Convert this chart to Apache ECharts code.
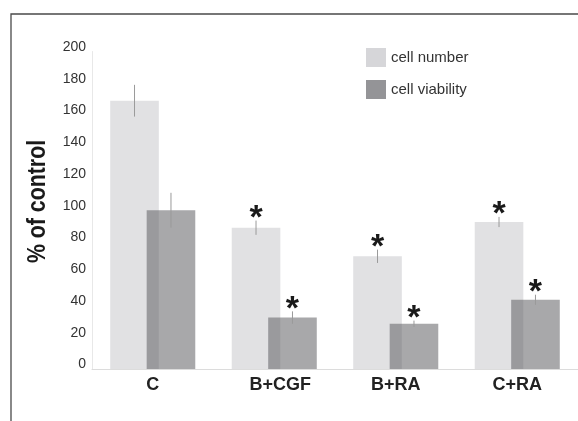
<!DOCTYPE html>
<html>
<head>
<meta charset="utf-8">
<script src="https://cdn.jsdelivr.net/npm/echarts@6/dist/echarts.min.js"></script>
<style>html,body{margin:0;padding:0;background:#fff;}#c{width:578px;height:421px;}</style>
</head>
<body>
<div id="c"></div>
<script>
const categories = ['C', 'B+CGF', 'B+RA', 'C+RA'];
const cellNumber = [169, 89, 71, 92.6];
const cellNumberErr = [10, 4.5, 4.2, 3.2];
const cellViability = [100, 32.4, 28.5, 43.6];
const cellViabilityErr = [11, 3.9, 2, 3.2];
const numberSig = [0, 1, 1, 1];
const viabilitySig = [0, 1, 1, 1];
const yMin = 0, yMax = 200, yStep = 20;

const FONT = '"Liberation Sans", Arial, sans-serif';
const BAR_W = 0.4, OVERLAP = 0.25;

function makeErr(vals, errs, sig) {
  return vals.map((v, i) => [i, v, errs[i], sig[i]]);
}
function renderer(side) {
  return function (params, api) {
    const i = api.value(0), v = api.value(1), e = api.value(2), s = api.value(3);
    const band = api.size([1, 0])[0];
    const off = side * band * BAR_W * (1 - OVERLAP) / 2;
    const x = api.coord([i, v])[0] + off;
    const yTop = api.coord([i, v + e])[1];
    const yBot = api.coord([i, v - e])[1];
    const children = [{
      type: 'line',
      shape: { x1: x, y1: yTop, x2: x, y2: yBot },
      style: { stroke: '#9a9a9a', lineWidth: 1 }
    }];
    if (s) {
      children.push({
        type: 'text',
        x: x, y: yTop - 9 + 7,
        style: { text: '*', fill: '#1a1a1a', font: 'bold 34px ' + FONT, align: 'center', verticalAlign: 'middle' }
      });
    }
    return { type: 'group', children };
  };
}

const chart = echarts.init(document.getElementById('c'), null, { renderer: 'canvas' });
chart.setOption({
  animation: false,
  backgroundColor: '#fff',
  grid: { left: 92, top: 51.5, width: 487, height: 317.5 },
  legend: {
    orient: 'vertical', left: 366, top: 48, padding: 0, icon: 'rect',
    itemWidth: 20, itemHeight: 19, itemGap: 13,
    textStyle: { fontFamily: FONT, fontSize: 15, color: '#333', padding: [8, 0, 0, 0] },
    data: [
      { name: 'cell number', itemStyle: { color: '#d6d6d9', opacity: 1 } },
      { name: 'cell viability', itemStyle: { color: '#949497', opacity: 1 } }
    ]
  },
  xAxis: {
    type: 'category',
    data: categories.map(c => c === 'B+CGF' ? { value: c, textStyle: { padding: [0, 0, 0, 12] } } : c),
    axisLine: { show: true, lineStyle: { color: '#dcdcdc', width: 1 } },
    axisTick: { show: false },
    axisLabel: { fontFamily: FONT, fontSize: 18, fontWeight: 'bold', color: '#222', margin: 7 }
  },
  yAxis: {
    type: 'value', min: yMin, max: yMax, interval: yStep,
    axisLine: { show: true, lineStyle: { color: '#e8e8e8', width: 1 } },
    axisTick: { show: false },
    splitLine: { show: false },
    axisLabel: { fontFamily: FONT, fontSize: 14, color: '#333', margin: 6, verticalAlign: 'bottom', lineHeight: 9 }
  },
  graphic: [
    { type: 'rect', shape: { x: 11, y: 14, width: 700, height: 600 }, style: { fill: 'none', stroke: '#4a4a4a', lineWidth: 1.3 }, silent: true },
    { type: 'text', x: 37.5, y: 201.5, rotation: Math.PI / 2, scaleX: 0.82,
      style: { text: '% of control', font: 'bold 26px ' + FONT, fill: '#1a1a1a', align: 'center', verticalAlign: 'middle' } }
  ],
  series: [
    { name: 'cell number', type: 'bar', data: cellNumber, barWidth: (BAR_W * 100) + '%', barGap: '-' + (OVERLAP * 100) + '%',
      itemStyle: { color: '#e1e1e3' }, z: 2 },
    { name: 'cell viability', type: 'bar', data: cellViability, barWidth: (BAR_W * 100) + '%',
      itemStyle: { color: 'rgb(97,97,100)', opacity: 0.55 }, z: 3 },
    { type: 'custom', renderItem: renderer(-1), data: makeErr(cellNumber, cellNumberErr, numberSig), encode: { x: 0, y: 1 }, z: 5 },
    { type: 'custom', renderItem: renderer(1), data: makeErr(cellViability, cellViabilityErr, viabilitySig), encode: { x: 0, y: 1 }, z: 5 }
  ]
});
</script>
</body>
</html>
